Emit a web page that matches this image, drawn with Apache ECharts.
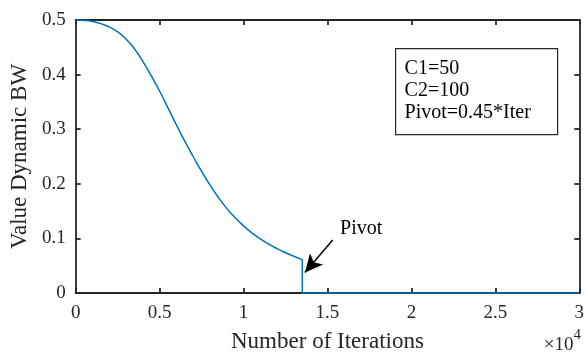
<!DOCTYPE html>
<html>
<head>
<meta charset="utf-8">
<script src="https://cdn.jsdelivr.net/npm/echarts@6/dist/echarts.min.js"></script>
<style>
html,body{margin:0;padding:0;background:#fff;}
#chart{width:587px;height:358px;}
</style>
</head>
<body>
<div id="chart"></div>
<script>
// Iterations (in units of 1e4) and Dynamic BW value — smooth decay before the pivot
var curveX = [0, 0.05, 0.1, 0.15, 0.2, 0.25, 0.3, 0.35, 0.4, 0.45, 0.5, 0.55, 0.6, 0.65, 0.7,
              0.75, 0.8, 0.85, 0.9, 0.95, 1.0, 1.05, 1.1, 1.15, 1.2, 1.25, 1.3, 1.35];
var curveY = [0.5, 0.4993, 0.4973, 0.4933, 0.4873, 0.4783, 0.4653, 0.4473, 0.4243, 0.398, 0.370, 0.339, 0.308, 0.278, 0.250,
              0.223, 0.198, 0.175, 0.155, 0.138, 0.123, 0.110, 0.099, 0.0895, 0.0812, 0.0738, 0.0672, 0.0612];
// Drop at the pivot and the flat part after it
var tailX = [1.35, 1.35, 3.0];
var tailY = [0.0612, 0, 0];
var xTicks = [0, 0.5, 1, 1.5, 2, 2.5, 3];
var yTicks = [0, 0.1, 0.2, 0.3, 0.4, 0.5];
var legendLines = ['C1=50', 'C2=100', 'Pivot=0.45*Iter'];
var pivotArrow = [[1.531, 0.097], [1.366, 0.0376]];
var pivotLabelPos = [1.575, 0.118];

var curveData = curveX.map(function (x, i) { return [x, curveY[i]]; });
var tailData = tailX.map(function (x, i) { return [x, tailY[i]]; });
var axisColor = '#262626';
var font = 'Liberation Serif';

var chart = echarts.init(document.getElementById('chart'), null, {renderer: 'canvas'});
var commonAxisLine = {show: true, onZero: false, lineStyle: {color: axisColor, width: 1.8}};
var commonTick = {show: true, inside: true, length: 5, lineStyle: {color: axisColor, width: 1.8}};

chart.setOption({
  animation: false,
  backgroundColor: '#fff',
  grid: {left: 71, right: 3, top: 20, bottom: 63, containLabel: false},
  xAxis: [{
    type: 'value', min: 0, max: 3, interval: 0.5, position: 'bottom',
    axisLine: commonAxisLine, axisTick: commonTick, splitLine: {show: false},
    axisLabel: {color: axisColor, fontFamily: font, fontSize: 19, margin: 11},
    name: 'Number of Iterations', nameLocation: 'middle', nameGap: 37,
    nameTextStyle: {color: axisColor, fontFamily: font, fontSize: 23}
  }, {
    type: 'value', min: 0, max: 3, interval: 0.5, position: 'top',
    axisLine: commonAxisLine, axisTick: commonTick, splitLine: {show: false},
    axisLabel: {show: false}
  }],
  yAxis: [{
    type: 'value', min: 0, max: 0.5, interval: 0.1, position: 'left',
    axisLine: commonAxisLine, axisTick: commonTick, splitLine: {show: false},
    axisLabel: {color: axisColor, fontFamily: font, fontSize: 19, margin: 10},
    name: 'Value Dynamic BW', nameLocation: 'middle', nameGap: 42, nameRotate: 90,
    nameTextStyle: {color: axisColor, fontFamily: font, fontSize: 23}
  }, {
    type: 'value', min: 0, max: 0.5, interval: 0.1, position: 'right',
    axisLine: commonAxisLine, axisTick: commonTick, splitLine: {show: false},
    axisLabel: {show: false}
  }],
  series: [{
    type: 'line',
    data: curveData,
    showSymbol: false,
    symbol: 'none',
    clip: false,
    smooth: 0.5,
    lineStyle: {color: '#0072BD', width: 1.5},
    z: 5,
    markLine: {
      silent: true,
      symbol: ['none', 'arrow'],
      symbolSize: [13, 18],
      label: {show: false},
      lineStyle: {color: '#000', width: 1.5, type: 'solid'},
      data: [[{coord: pivotArrow[0]}, {coord: pivotArrow[1]}]]
    },
    markPoint: {
      silent: true,
      symbol: 'circle',
      symbolSize: 0,
      data: [{coord: pivotLabelPos, value: 'Pivot'}],
      label: {
        show: true, position: 'right', distance: 0,
        formatter: 'Pivot',
        color: '#000', fontFamily: font, fontSize: 20
      }
    }
  }, {
    type: 'line',
    data: tailData,
    showSymbol: false,
    symbol: 'none',
    clip: false,
    lineStyle: {color: '#0072BD', width: 1.5},
    z: 5
  }],
  graphic: [{
    type: 'group',
    left: 395, top: 48,
    children: [{
      type: 'rect',
      shape: {x: 0, y: 0, width: 162, height: 86},
      style: {fill: '#fff', stroke: axisColor, lineWidth: 1.2}
    }, {
      type: 'text',
      left: 9, top: 9,
      style: {
        text: legendLines.join('\n'),
        font: '20px "Liberation Serif"',
        lineHeight: 22,
        fill: '#000'
      }
    }]
  }, {
    type: 'text',
    right: 6, bottom: 3,
    style: {
      text: '{t|×10}{s|4}',
      rich: {
        t: {font: '19px "Liberation Serif"', fill: axisColor, verticalAlign: 'bottom'},
        s: {font: '15px "Liberation Serif"', fill: axisColor, verticalAlign: 'top', padding: [0, 0, 12, 0]}
      }
    }
  }]
});
</script>
</body>
</html>
